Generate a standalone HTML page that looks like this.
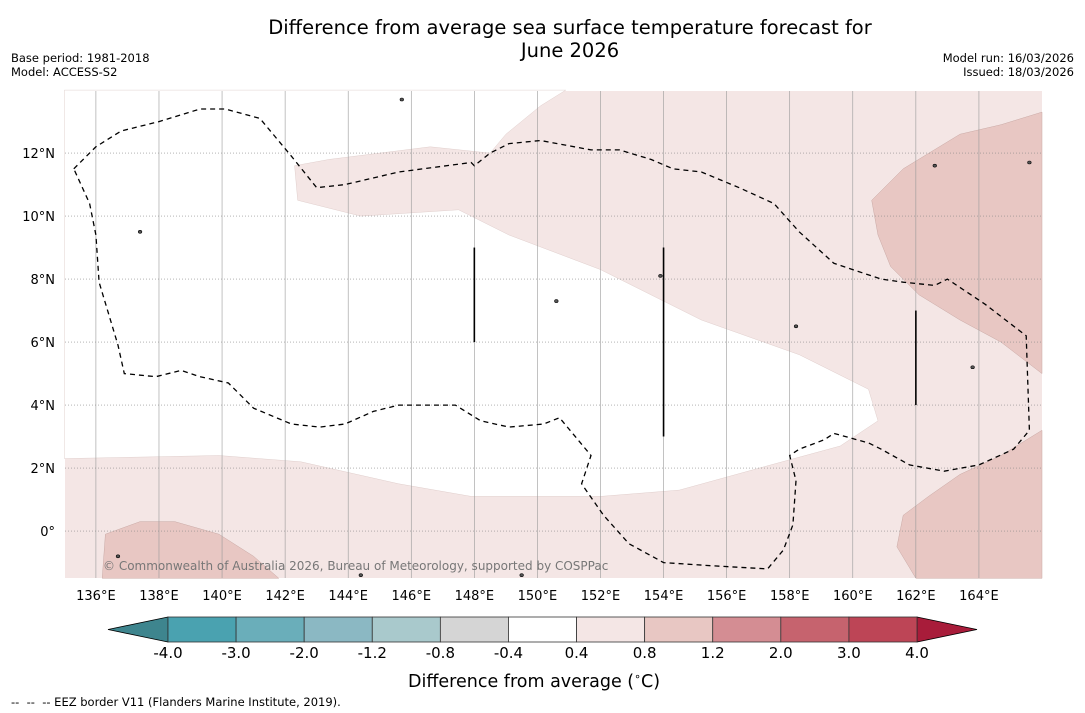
<!DOCTYPE html>
<html><head><meta charset="utf-8">
<style>
body{margin:0;background:#fff;font-family:"DejaVu Sans","Liberation Sans",sans-serif;}
#wrap{position:relative;width:1085px;height:713px;overflow:hidden;background:#fff}
.t{position:absolute;white-space:nowrap;color:#000}
</style></head><body>
<div id="wrap">
<div class="t" style="left:0;width:1140px;text-align:center;top:16px;font-size:19.5px;line-height:23px">Difference from average sea surface temperature forecast for<br>June 2026</div>
<div class="t" style="left:11px;top:51px;font-size:11.5px;line-height:14px">Base period: 1981-2018<br>Model: ACCESS-S2</div>
<div class="t" style="right:11px;top:51px;font-size:11.5px;line-height:14px;text-align:right">Model run: 16/03/2026<br>Issued: 18/03/2026</div>
<svg id="svg" width="1085" height="713" style="position:absolute;left:0;top:0"></svg>
<div class="t" style="left:408px;top:670px;font-size:17.5px">Difference from average (<sup style="font-size:11px">∘</sup>C)</div>
<div class="t" style="left:11px;top:695px;font-size:11.5px">-- &nbsp;-- &nbsp;-- EEZ border V11 (Flanders Marine Institute, 2019).</div>
</div>
<script>
const lonTicks=[136,138,140,142,144,146,148,150,152,154,156,158,160,162,164];
const latTicks=[0,2,4,6,8,10,12];
const levels=[-4.0,-3.0,-2.0,-1.2,-0.8,-0.4,0.4,0.8,1.2,2.0,3.0,4.0];
const levelColors=["#4aa2b0","#6aaeba","#8bb8c3","#a9c9cc","#d5d5d5","#ffffff","#f4e6e5","#e8c7c3","#d48d93","#c6636e","#bd4556"];
const whiteRegion=[[135,14],[150.9,14],[150.1,13.5],[149,12.6],[148.5,12],[146.6,12.2],[143.4,11.8],[142.3,11.6],[142.4,10.5],[144.4,10],[147.5,10.2],[149.1,9.4],[152,8.3],[155.2,6.7],[158.3,5.6],[160.5,4.5],[160.8,3.5],[159.6,2.7],[157.4,2.1],[154.5,1.3],[152,1.1],[147.9,1.1],[145.6,1.5],[142.5,2.2],[139.9,2.4],[135,2.3]];
const darkRegions=[
 [[166,13.3],[164.7,12.9],[163.4,12.6],[161.6,11.5],[160.6,10.5],[160.8,9.4],[161.2,8.4],[162.1,7.5],[163.4,6.7],[164.7,6.0],[166,5.0]],
 [[166,3.2],[164.7,2.4],[163.4,1.8],[162.4,1.1],[161.6,0.5],[161.4,-0.5],[162,-1.5],[166,-1.5]],
 [[136.2,-1.5],[136.3,-0.1],[137.4,0.3],[138.5,0.3],[139.9,-0.1],[141,-0.8],[141.8,-1.5]]];
const eez=[[135.3,11.5],[136,12.2],[136.8,12.7],[138,13],[139.3,13.4],[140.1,13.4],[141.2,13.1],[142.2,11.9],[143,10.9],[143.9,11],[145.6,11.4],[147.9,11.7],[148,11.6],[148.5,12],[149.1,12.3],[150.1,12.4],[151.7,12.1],[152.6,12.1],[153.6,11.8],[154.3,11.5],[155.2,11.4],[156.4,10.9],[157.5,10.4],[158.3,9.5],[159.4,8.5],[160.9,8],[161.6,7.9],[162.6,7.8],[163,8],[164.2,7.2],[165.5,6.2],[165.6,3.2],[165.1,2.6],[164,2.1],[162.9,1.9],[161.8,2.1],[160.9,2.6],[160.5,2.8],[159.4,3.1],[159.1,2.9],[158.3,2.6],[158,2.4],[158.2,1.6],[158.1,0.2],[157.8,-0.6],[157.3,-1.2],[155.5,-1.1],[154,-1],[152.9,-0.4],[152.1,0.5],[151.4,1.5],[151.7,2.4],[151.2,3],[150.7,3.6],[150.2,3.4],[149.1,3.3],[148.2,3.5],[147.4,4],[145.6,4],[144.8,3.8],[143.9,3.4],[143.1,3.3],[142.2,3.4],[141,3.9],[140.4,4.5],[140.2,4.7],[139.3,4.9],[138.7,5.1],[137.9,4.9],[136.9,5],[136.7,5.9],[136.1,7.9],[136,9.4],[135.8,10.4],[135.3,11.5]];
const segLines=[[148,9,6],[154,9,3],[162,7,4]];
const islands=[[145.7,13.7],[137.4,9.5],[153.9,8.1],[150.6,7.3],[158.2,6.5],[163.8,5.2],[136.7,-0.8],[149.5,-1.4],[144.4,-1.4],[165.6,11.7],[162.6,11.6]];

const X0=65,X1=1042,Y0=91,Y1=578,LON0=135.02,LON1=166,LAT0=13.97,LAT1=-1.49;
const sx=l=>X0+(l-LON0)/(LON1-LON0)*(X1-X0);
const sy=l=>Y0+(l-LAT0)/(LAT1-LAT0)*(Y1-Y0);
const svg=document.getElementById('svg');const NS='http://www.w3.org/2000/svg';
function mk(t,a,p){const e=document.createElementNS(NS,t);for(const k in a)e.setAttribute(k,a[k]);(p||svg).appendChild(e);return e;}
const pts=a=>a.map(p=>sx(p[0]).toFixed(1)+','+sy(p[1]).toFixed(1)).join(' ');
let e=mk('rect',{x:X0,y:Y0,width:X1-X0,height:Y1-Y0,fill:'#f4e6e5'});


e=mk('polygon',{points:pts(whiteRegion),fill:'#fff',stroke:'#d9c5c3','stroke-width':0.4});


darkRegions.forEach((r,i)=>{const p=mk('polygon',{points:pts(r),fill:'#e8c7c3',stroke:'#c9a9a5','stroke-width':0.5});

});
lonTicks.forEach(l=>{const g=mk('line',{x1:sx(l),x2:sx(l),y1:Y0,y2:Y1,stroke:'#999','stroke-width':0.6});


const t=mk('text',{x:sx(l),y:600,'font-size':13,'text-anchor':'middle','font-family':'DejaVu Sans,sans-serif'});t.textContent=l+'°E';

});
latTicks.forEach(l=>{const g=mk('line',{x1:X0,x2:X1,y1:sy(l),y2:sy(l),stroke:'#888','stroke-width':0.7,'stroke-dasharray':'1,2'});


const t=mk('text',{x:55,y:sy(l)+5,'font-size':13,'text-anchor':'end','font-family':'DejaVu Sans,sans-serif'});t.textContent=l===0?'0°':l+'°N';

});
e=mk('polyline',{points:pts(eez),fill:'none',stroke:'#000','stroke-width':1.3,'stroke-dasharray':'5,4'});


segLines.forEach(s=>{const l=mk('line',{x1:sx(s[0]),x2:sx(s[0]),y1:sy(s[1]),y2:sy(s[2]),stroke:'#000','stroke-width':1.6});

});
islands.forEach(p=>{const c=mk('ellipse',{cx:sx(p[0]),cy:sy(p[1]),rx:1.8,ry:1.5,fill:'#555',stroke:'#000','stroke-width':0.6});

});
e=mk('text',{x:103,y:570,'font-size':12,fill:'#777','font-family':'DejaVu Sans,sans-serif'});e.textContent='© Commonwealth of Australia 2026, Bureau of Meteorology, supported by COSPPac';


const CB0=168,CB1=917,CBY=617,CBH=25;const n=levels.length-1;const cw=(CB1-CB0)/n;
e=mk('polygon',{points:`${CB0},${CBY} 108,${CBY+CBH/2} ${CB0},${CBY+CBH}`,fill:'#3e858e',stroke:'#000','stroke-width':0.8});


e=mk('polygon',{points:`${CB1},${CBY} 977,${CBY+CBH/2} ${CB1},${CBY+CBH}`,fill:'#a81c3a',stroke:'#000','stroke-width':0.8});


for(let i=0;i<n;i++){const r=mk('rect',{x:CB0+i*cw,y:CBY,width:cw,height:CBH,fill:levelColors[i],stroke:'#333','stroke-width':0.8});

}
levels.forEach((v,i)=>{const t=mk('text',{x:CB0+i*cw,y:658,'font-size':15,'text-anchor':'middle','font-family':'DejaVu Sans,sans-serif'});t.textContent=v.toFixed(1);

});
</script>
</body></html>
